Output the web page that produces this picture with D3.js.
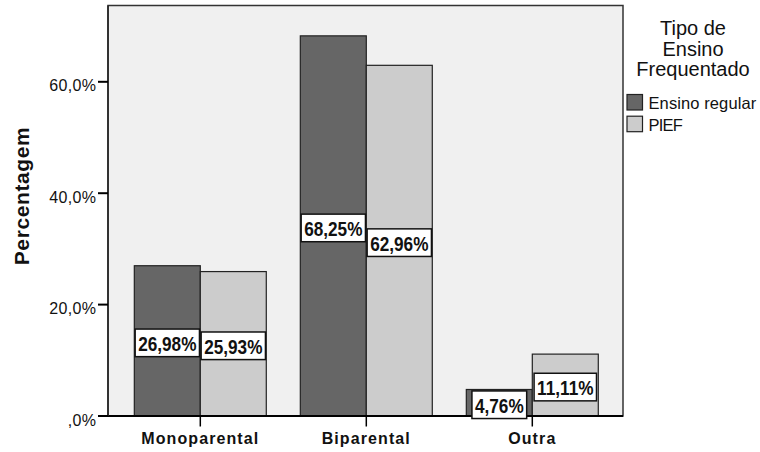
<!DOCTYPE html>
<html lang="pt">
<head>
<meta charset="utf-8">
<script src="https://cdn.jsdelivr.net/npm/d3@7"></script>
<style>
  body { margin: 0; background: #fff; }
  text { font-family: Arial, "Liberation Sans", sans-serif; }
</style>
</head>
<body>
<script>
// data
var categories = ["Monoparental", "Biparental", "Outra"];
var seriesNames = ["Ensino regular", "PIEF"];
var ensinoRegular = [26.98, 68.25, 4.76];
var pief = [25.93, 62.96, 11.11];
var yTicks = [0, 20, 40, 60];
var yTickLabels = [",0%", "20,0%", "40,0%", "60,0%"];
var legendTitle = ["Tipo de", "Ensino", "Frequentado"];
var colors = ["#666666", "#cccccc"];

var w = 760, h = 452;
// plot box edges (don't use "top" - it's window.top)
var plotL = 108, plotR = 623, plotT = 5.5, plotB = 416;

var svg = d3.select("body").append("svg")
    .attr("width", w)
    .attr("height", h);

var yScale = d3.scaleLinear()
    .domain([0, 73.7])
    .range([plotB, plotT]);

var xScale = d3.scaleBand()
    .domain(categories)
    .range([117.3, 615.3])
    .paddingInner(0.205)
    .paddingOuter(0.1025);

var xSub = d3.scaleBand()
    .domain(seriesNames)
    .range([0, xScale.bandwidth()]);

// plot background
svg.append("rect")
    .attr("x", plotL).attr("y", plotT)
    .attr("width", plotR - plotL).attr("height", plotB - plotT)
    .attr("fill", "#f0f0f0")
    .attr("stroke", "#333")
    .attr("stroke-width", 1.5);

// flatten values
var rows = [];
categories.forEach(function(c, i) {
    rows.push({cat: c, s: seriesNames[0], v: ensinoRegular[i]});
    rows.push({cat: c, s: seriesNames[1], v: pief[i]});
});

svg.selectAll("rect.bar")
    .data(rows)
    .enter()
    .append("rect")
    .attr("class", "bar")
    .attr("x", function(d) { return xScale(d.cat) + xSub(d.s); })
    .attr("y", function(d) { return yScale(d.v); })
    .attr("width", xSub.bandwidth())
    .attr("height", function(d) { return plotB - yScale(d.v); })
    .attr("fill", function(d) { return colors[seriesNames.indexOf(d.s)]; })
    .attr("stroke", "#222")
    .attr("stroke-width", 1.2);

// axes
svg.append("line")
    .attr("x1", plotL).attr("x2", plotR)
    .attr("y1", plotB).attr("y2", plotB)
    .attr("stroke", "#000").attr("stroke-width", 2);
svg.append("line")
    .attr("x1", plotL).attr("x2", plotL)
    .attr("y1", plotT).attr("y2", plotB)
    .attr("stroke", "#222").attr("stroke-width", 1.5);

svg.selectAll("line.ytick")
    .data(yTicks)
    .enter()
    .append("line")
    .attr("class", "ytick")
    .attr("x1", 98).attr("x2", plotL)
    .attr("y1", function(d) { return yScale(d); })
    .attr("y2", function(d) { return yScale(d); })
    .attr("stroke", "#000").attr("stroke-width", 2);

svg.selectAll("text.ylab")
    .data(yTicks)
    .enter()
    .append("text")
    .attr("class", "ylab")
    .attr("x", 96.5)
    .attr("y", function(d) { return yScale(d) + 9.5; })
    .attr("text-anchor", "end")
    .attr("font-size", "16px")
    .attr("letter-spacing", "0.4px")
    .attr("fill", "#111")
    .text(function(d, i) { return yTickLabels[i]; });

svg.selectAll("line.xtick")
    .data(categories)
    .enter()
    .append("line")
    .attr("class", "xtick")
    .attr("x1", function(d) { return xScale(d) + xScale.bandwidth() / 2; })
    .attr("x2", function(d) { return xScale(d) + xScale.bandwidth() / 2; })
    .attr("y1", plotB).attr("y2", 426.5)
    .attr("stroke", "#000").attr("stroke-width", 1.5);

svg.selectAll("text.xlab")
    .data(categories)
    .enter()
    .append("text")
    .attr("class", "xlab")
    .attr("x", function(d) { return xScale(d) + xScale.bandwidth() / 2; })
    .attr("y", 444)
    .attr("text-anchor", "middle")
    .attr("font-size", "16px")
    .attr("font-weight", "bold")
    .attr("letter-spacing", "1.1px")
    .attr("fill", "#111")
    .text(function(d) { return d; });

// y axis title
svg.append("text")
    .attr("transform", "translate(28.5,196) rotate(-90)")
    .attr("text-anchor", "middle")
    .attr("font-size", "21px")
    .attr("font-weight", "bold")
    .attr("letter-spacing", "0.6px")
    .attr("fill", "#111")
    .text("Percentagem");

// value labels in white boxes
var sx = 0.86;
var labels = svg.selectAll("g.vlab")
    .data(rows)
    .enter()
    .append("g")
    .attr("class", "vlab")
    .attr("transform", function(d) {
        var cx = xScale(d.cat) + xSub(d.s) + xSub.bandwidth() / 2;
        var cy = (yScale(d.v) + plotB) / 2 + 2;
        return "translate(" + cx + "," + cy + ")";
    });

labels.append("rect");
labels.append("text")
    .attr("text-anchor", "middle")
    .attr("y", 8)
    .attr("font-size", "20px")
    .attr("font-weight", "bold")
    .attr("fill", "#111")
    .attr("transform", "scale(" + sx + ",1)")
    .text(function(d) { return d3.format(".2f")(d.v).replace(".", ",") + "%"; });

labels.each(function() {
    var g = d3.select(this);
    var tw = g.select("text").node().getComputedTextLength() * sx;
    g.select("rect")
        .attr("x", -(tw + 6) / 2)
        .attr("y", -13.8)
        .attr("width", tw + 6)
        .attr("height", 27.6)
        .attr("fill", "#fff")
        .attr("stroke", "#111")
        .attr("stroke-width", 1.5);
});

// legend
svg.selectAll("text.ltitle")
    .data(legendTitle)
    .enter()
    .append("text")
    .attr("class", "ltitle")
    .attr("x", 693)
    .attr("y", function(d, i) { return 35 + i * 20.7; })
    .attr("text-anchor", "middle")
    .attr("font-size", "20px")
    .attr("fill", "#111")
    .text(function(d) { return d; });

var legend = svg.selectAll("g.legend")
    .data(seriesNames)
    .enter()
    .append("g")
    .attr("class", "legend")
    .attr("transform", function(d, i) { return "translate(627," + (94.5 + i * 21.7) + ")"; });

legend.append("rect")
    .attr("width", 15.5).attr("height", 15.5)
    .attr("fill", function(d, i) { return colors[i]; })
    .attr("stroke", "#222")
    .attr("stroke-width", 1.2);

legend.append("text")
    .attr("x", 21.5)
    .attr("y", 14.5)
    .attr("font-size", "16.5px")
    .attr("letter-spacing", function(d, i) { return i === 0 ? "0.1px" : "-0.8px"; })
    .attr("fill", "#111")
    .text(function(d) { return d; });
</script>
</body>
</html>
